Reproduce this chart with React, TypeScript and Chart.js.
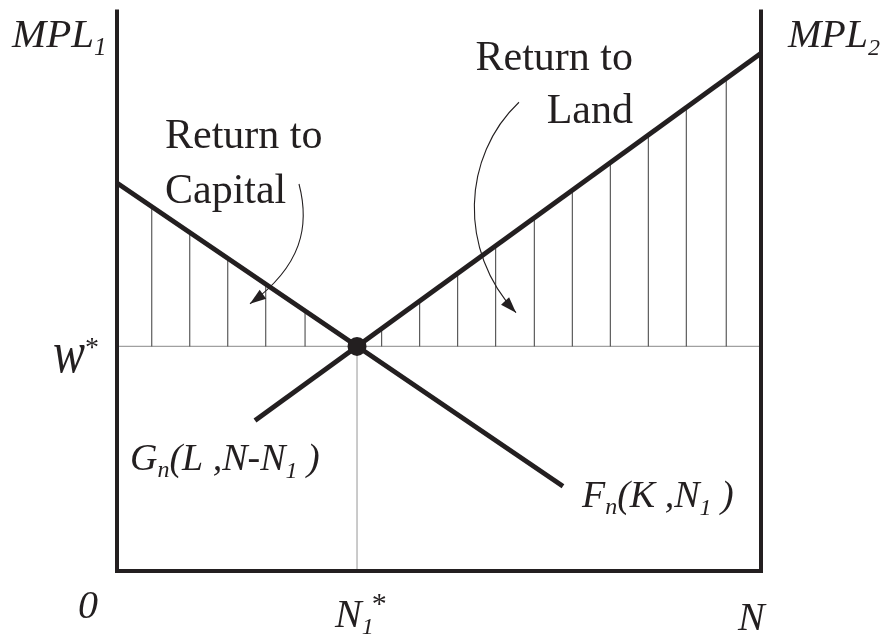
import React, { useEffect, useRef } from 'react';
import { Chart, registerables } from 'chart.js';
Chart.register(...registerables);

// ---- data (in diagram units: x = labour 0..N, y = marginal products) ----
const X_MAX = 100; // N
const Y_MAX = 100;
const W_STAR = 40;
const N1_STAR = 37.27;

const F_CURVE_X = [0, 69.25];
const F_CURVE_Y = [69.1, 15.1];
const G_CURVE_X = [21.43, 100];
const G_CURVE_Y = [26.8, 92.2];

const HATCH_X = [5.4, 11.3, 17.2, 23.1, 29.2, 41.1, 47.0, 52.9, 58.8, 64.8, 70.7, 76.6, 82.5, 88.4, 94.6];
const HATCH_TOP = [64.6, 60.0, 55.4, 50.8, 46.0, 43.0, 47.9, 52.7, 57.7, 62.6, 67.5, 72.5, 77.6, 82.4, 87.5];

const CAPITAL_ARROW_X = [28.26, 29.97, 28.73, 20.65];
const CAPITAL_ARROW_Y = [68.92, 61.46, 54.35, 47.6];
const LAND_ARROW_X = [62.42, 53.57, 52.95, 61.96];
const LAND_ARROW_Y = [83.48, 73.89, 57.02, 46.0];

const INK = '#231f20';
const FONT = "'Liberation Serif', 'DejaVu Serif', serif";

type Seg = { t: string; s: number; dy?: number; dx?: number; italic?: boolean; sy?: number };
type Label = { at: [number, number]; dx: number; dy: number; italic: boolean; align?: 'left' | 'right'; segs: Seg[] };

const LABELS: Label[] = [
  { at: [0, Y_MAX], dx: -105, dy: 37, italic: true, segs: [{ t: 'MPL', s: 41 }, { t: '1', s: 25, dy: 8 }] },
  { at: [X_MAX, Y_MAX], dx: 27, dy: 37, italic: true, segs: [{ t: 'MPL', s: 40 }, { t: '2', s: 24, dy: 8 }] },
  { at: [0, W_STAR], dx: -64, dy: 26, italic: true, segs: [{ t: 'w', s: 48, sy: 1.25 }, { t: '*', s: 28, dy: -16, italic: false }] },
  { at: [0, 0], dx: -39, dy: 47, italic: true, segs: [{ t: '0', s: 40 }] },
  { at: [N1_STAR, 0], dx: -22, dy: 56, italic: true, segs: [{ t: 'N', s: 40 }, { t: '1', s: 24, dy: 7 }, { t: '*', s: 30, dy: -14, dx: -2, italic: false }] },
  { at: [X_MAX, 0], dx: -23, dy: 59, italic: true, segs: [{ t: 'N', s: 40 }] },
  { at: [2.02, 17.94], dx: 0, dy: 0, italic: true, segs: [{ t: 'G', s: 38 }, { t: 'n', s: 24, dy: 7 }, { t: '(L ,N-N', s: 38 }, { t: '1', s: 24, dy: 8 }, { t: ' )', s: 38 }] },
  { at: [72.2, 11.37], dx: 0, dy: 0, italic: true, segs: [{ t: 'F', s: 38 }, { t: 'n', s: 24, dy: 7 }, { t: '(K ,N', s: 38 }, { t: '1', s: 24, dy: 8 }, { t: ' )', s: 38 }] },
  { at: [80.12, 89.17], dx: 0, dy: 0, italic: false, align: 'right', segs: [{ t: 'Return to', s: 42 }] },
  { at: [80.12, 79.75], dx: 0, dy: 0, italic: false, align: 'right', segs: [{ t: 'Land', s: 42 }] },
  { at: [7.45, 75.31], dx: 0, dy: 0, italic: false, segs: [{ t: 'Return to', s: 42 }] },
  { at: [7.45, 65.54], dx: 0, dy: 0, italic: false, segs: [{ t: 'Capital', s: 42 }] },
];

function segFont(seg: Seg, italic: boolean) {
  const it = seg.italic === undefined ? italic : seg.italic;
  return `${it ? 'italic ' : ''}${seg.s}px ${FONT}`;
}

function drawLabel(ctx: CanvasRenderingContext2D, lab: Label, x0: number, y0: number) {
  let total = 0;
  for (const s of lab.segs) {
    ctx.font = segFont(s, lab.italic);
    total += ctx.measureText(s.t).width + (s.dx || 0);
  }
  let x = lab.align === 'right' ? x0 - total : x0;
  ctx.textBaseline = 'alphabetic';
  ctx.textAlign = 'left';
  for (const s of lab.segs) {
    ctx.font = segFont(s, lab.italic);
    x += s.dx || 0;
    const y = y0 + (s.dy || 0);
    if (s.sy) {
      ctx.save();
      ctx.translate(x, y);
      ctx.scale(1, s.sy);
      ctx.fillText(s.t, 0, 0);
      ctx.restore();
    } else {
      ctx.fillText(s.t, x, y);
    }
    x += ctx.measureText(s.t).width;
  }
}

function drawArrow(ctx: CanvasRenderingContext2D, xs: number[], ys: number[]) {
  ctx.beginPath();
  ctx.moveTo(xs[0], ys[0]);
  ctx.bezierCurveTo(xs[1], ys[1], xs[2], ys[2], xs[3], ys[3]);
  ctx.lineWidth = 1.1;
  ctx.strokeStyle = INK;
  ctx.stroke();
  const ang = Math.atan2(ys[3] - ys[2], xs[3] - xs[2]);
  const len = 16, half = 5.5;
  const bx = xs[3] - len * Math.cos(ang), by = ys[3] - len * Math.sin(ang);
  ctx.beginPath();
  ctx.moveTo(xs[3], ys[3]);
  ctx.lineTo(bx + half * Math.sin(ang), by - half * Math.cos(ang));
  ctx.lineTo(bx - half * Math.sin(ang), by + half * Math.cos(ang));
  ctx.closePath();
  ctx.fillStyle = INK;
  ctx.fill();
}

const overlayPlugin = {
  id: 'overlay',
  afterDatasetsDraw(chart: any) {
    const { ctx, scales } = chart;
    const px = (v: number) => scales.x.getPixelForValue(v);
    const py = (v: number) => scales.y.getPixelForValue(v);
    ctx.save();
    drawArrow(ctx, CAPITAL_ARROW_X.map(px), CAPITAL_ARROW_Y.map(py));
    drawArrow(ctx, LAND_ARROW_X.map(px), LAND_ARROW_Y.map(py));
    ctx.fillStyle = INK;
    for (const lab of LABELS) {
      drawLabel(ctx, lab, px(lab.at[0]) + lab.dx, py(lab.at[1]) + lab.dy);
    }
    ctx.restore();
  },
};

export default function App() {
  const ref = useRef<HTMLCanvasElement>(null);
  useEffect(() => {
    const hatch: any[] = [];
    HATCH_X.forEach((x, i) => {
      hatch.push({ x, y: W_STAR }, { x, y: HATCH_TOP[i] }, { x, y: null });
    });
    const line = (data: any[], color: string, width: number, order: number, extra: any = {}) => ({
      type: 'line',
      data,
      borderColor: color,
      borderWidth: width,
      pointRadius: 0,
      fill: false,
      tension: 0,
      clip: false,
      order,
      spanGaps: false,
      borderCapStyle: 'butt',
      borderJoinStyle: 'miter',
      ...extra,
    });
    const chart = new Chart(ref.current!, {
      type: 'line',
      data: {
        datasets: [
          {
            type: 'scatter',
            data: [{ x: N1_STAR, y: W_STAR }],
            pointRadius: 9.5,
            pointBackgroundColor: INK,
            pointBorderWidth: 0,
            showLine: false,
            clip: false,
            order: 0,
          } as any,
          line(F_CURVE_X.map((x, i) => ({ x, y: F_CURVE_Y[i] })), INK, 4.8, 1),
          line(G_CURVE_X.map((x, i) => ({ x, y: G_CURVE_Y[i] })), INK, 4.8, 1),
          line([{ x: 0, y: Y_MAX }, { x: 0, y: 0 }, { x: X_MAX, y: 0 }, { x: X_MAX, y: Y_MAX }], INK, 4, 2),
          line(hatch, '#3b3b3b', 1, 3),
          line([{ x: 0, y: W_STAR }, { x: X_MAX, y: W_STAR }], '#a0a0a0', 1.2, 4),
          line([{ x: N1_STAR, y: 0 }, { x: N1_STAR, y: W_STAR }], '#a8a8a8', 1.2, 4),
        ] as any,
      },
      options: {
        animation: false,
        responsive: false,
        devicePixelRatio: 1,
        layout: { padding: { left: 117, right: 120, top: 8, bottom: 63 } },
        scales: {
          x: { type: 'linear', min: 0, max: X_MAX, display: false },
          y: { type: 'linear', min: 0, max: Y_MAX, display: false },
        },
        plugins: { legend: { display: false }, tooltip: { enabled: false } },
        events: [],
      } as any,
      plugins: [overlayPlugin],
    });
    return () => chart.destroy();
  }, []);
  return (
    <div style={{ position: 'absolute', left: 0, top: 0, width: 881, height: 634, background: '#fff' }}>
      <canvas ref={ref} width={881} height={634} style={{ display: 'block' }} />
    </div>
  );
}
